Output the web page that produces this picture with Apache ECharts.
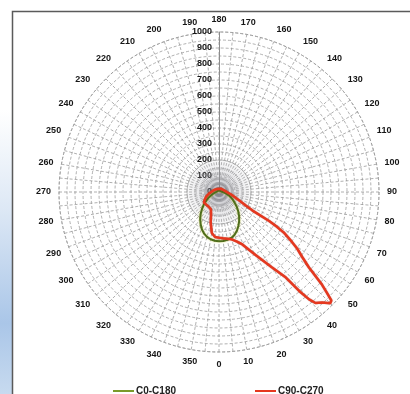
<!DOCTYPE html>
<html>
<head>
<meta charset="utf-8">
<script src="https://cdn.jsdelivr.net/npm/echarts@6/dist/echarts.min.js"></script>
<style>
html,body{margin:0;padding:0;background:#fff;}
#chart{width:410px;height:394px;}
</style>
</head>
<body>
<div id="chart"></div>
<script>
// Series names (legend)
const seriesNames = ['C0-C180', 'C90-C270'];

// C0-C180 (green): gamma angle (deg, 0 = down, 90 = right, 270 = left) and intensity
const greenAngles = [0, 5, 10, 15, 20, 25, 30, 35, 40, 45, 50, 55, 60, 65, 70, 75, 80, 85, 90, 100, 120, 150, 180,
  210, 240, 270, 275, 280, 285, 290, 295, 300, 305, 310, 315, 320, 325, 330, 335, 340, 345, 350, 355, 360];
const greenValues = [308, 307, 303, 297, 285, 266, 243, 220, 195, 170, 145, 122, 102, 85, 68, 52, 40, 30, 22, 16, 12, 10, 10,
  10, 12, 18, 22, 28, 36, 48, 62, 80, 100, 125, 150, 178, 205, 230, 255, 275, 290, 300, 306, 308];

// C90-C270 (red)
const redAngles = [0, 5, 10, 15, 20, 24, 30, 35, 38, 39, 40, 41, 43, 45, 46, 47, 48, 50, 52, 54, 56, 58, 59, 60, 61, 63, 66, 70, 75, 80, 85, 90, 100, 120, 150, 180,
  210, 240, 260, 270, 280, 290, 300, 305, 315, 325, 330, 335, 340, 345, 350, 355, 360];
const redValues = [286, 290, 296, 306, 330, 359, 453, 575, 679, 796, 876, 919, 945, 983, 976, 920, 867, 734, 660, 606, 540, 477, 420, 362, 240, 190, 150, 115, 90, 72, 58, 48, 38, 30, 24, 20,
  22, 30, 40, 50, 65, 85, 105, 115, 112, 112, 115, 120, 145, 200, 260, 282, 286];

// Axis scales
const radiusMax = 1000;
const radiusStep = 100;
const angleStep = 10;

const toAxisAngle = a => (a > 180 ? a - 360 : a);
const buildData = (angles, values) => angles.map((a, i) => [values[i], toAxisAngle(a)]);

const labelFont = { fontFamily: 'Liberation Sans', fontSize: 9, fontWeight: 'bold', color: '#161616' };
const gridLine = { color: '#9c9c9c', type: [3, 2], width: 0.8 };

const chart = echarts.init(document.getElementById('chart'), null, { renderer: 'canvas' });
const cx = 219, cy = 192;
chart.setOption({
  animation: false,
  backgroundColor: '#fff',
  graphic: [
    { type: 'rect', z: -10, shape: { x: 0, y: 110, width: 12, height: 284 },
      style: { fill: new echarts.graphic.LinearGradient(0, 0, 0, 1, [
        { offset: 0, color: '#ffffff' }, { offset: 0.35, color: '#dde8f5' },
        { offset: 0.75, color: '#aac6e8' }, { offset: 1, color: '#c7daef' }]) } },
    { type: 'rect', z: 100, shape: { x: 12.5, y: 11.5, width: 420, height: 420 },
      style: { fill: 'none', stroke: '#5a5a5a', lineWidth: 1.5 } },
    { type: 'circle', z: 1, shape: { cx: cx, cy: cy, r: 32 },
      style: { fill: new echarts.graphic.RadialGradient(0.5, 0.5, 0.5, [
        { offset: 0, color: 'rgba(110,110,125,0.6)' }, { offset: 0.45, color: 'rgba(150,150,160,0.3)' },
        { offset: 1, color: 'rgba(200,200,205,0.12)' }]), stroke: 'rgba(160,160,160,0.6)', lineWidth: 1 } }
  ],
  legend: {
    data: seriesNames,
    left: 108, top: 381,
    itemWidth: 21, itemHeight: 2, itemGap: 79,
    icon: 'rect',
    textStyle: { fontFamily: 'Liberation Sans', fontSize: 10, fontWeight: 'bold', color: '#222', padding: [0, 0, 0, -3] }
  },
  polar: { center: [cx, cy], radius: 160 },
  angleAxis: {
    type: 'value', min: -180, max: 180, interval: angleStep,
    startAngle: 90, clockwise: false,
    axisLine: { show: true, lineStyle: { color: '#9c9c9c', type: [3, 2], width: 0.8 } },
    axisTick: { show: false },
    axisLabel: Object.assign({ margin: 8, formatter: v => String(v < 0 ? v + 360 : v) }, labelFont),
    splitLine: { show: true, lineStyle: gridLine },
    minorTick: { show: false, splitNumber: 2 },
    minorSplitLine: { show: true, lineStyle: gridLine }
  },
  radiusAxis: {
    type: 'value', min: 0, max: radiusMax, interval: radiusStep,
    axisLine: { show: true, lineStyle: { color: '#8c8c8c', width: 1 } },
    axisTick: { show: false },
    axisLabel: Object.assign({ margin: 7, formatter: v => String(v) }, labelFont),
    splitLine: { show: true, lineStyle: gridLine },
    minorTick: { show: false, splitNumber: 2 },
    minorSplitLine: { show: true, lineStyle: gridLine }
  },
  series: [
    { name: seriesNames[0], type: 'line', coordinateSystem: 'polar', symbol: 'none', z: 3,
      data: buildData(greenAngles, greenValues),
      lineStyle: { color: '#4f6e1c', width: 2, shadowColor: 'rgba(200,200,60,0.7)', shadowBlur: 2 },
      itemStyle: { color: '#7a9a2a' } },
    { name: seriesNames[1], type: 'line', coordinateSystem: 'polar', symbol: 'none', z: 4,
      data: buildData(redAngles, redValues),
      lineStyle: { color: '#e5381f', width: 2.5, shadowColor: 'rgba(150,20,10,0.5)', shadowBlur: 1 },
      itemStyle: { color: '#e5381f' } }
  ]
});
</script>
</body>
</html>
